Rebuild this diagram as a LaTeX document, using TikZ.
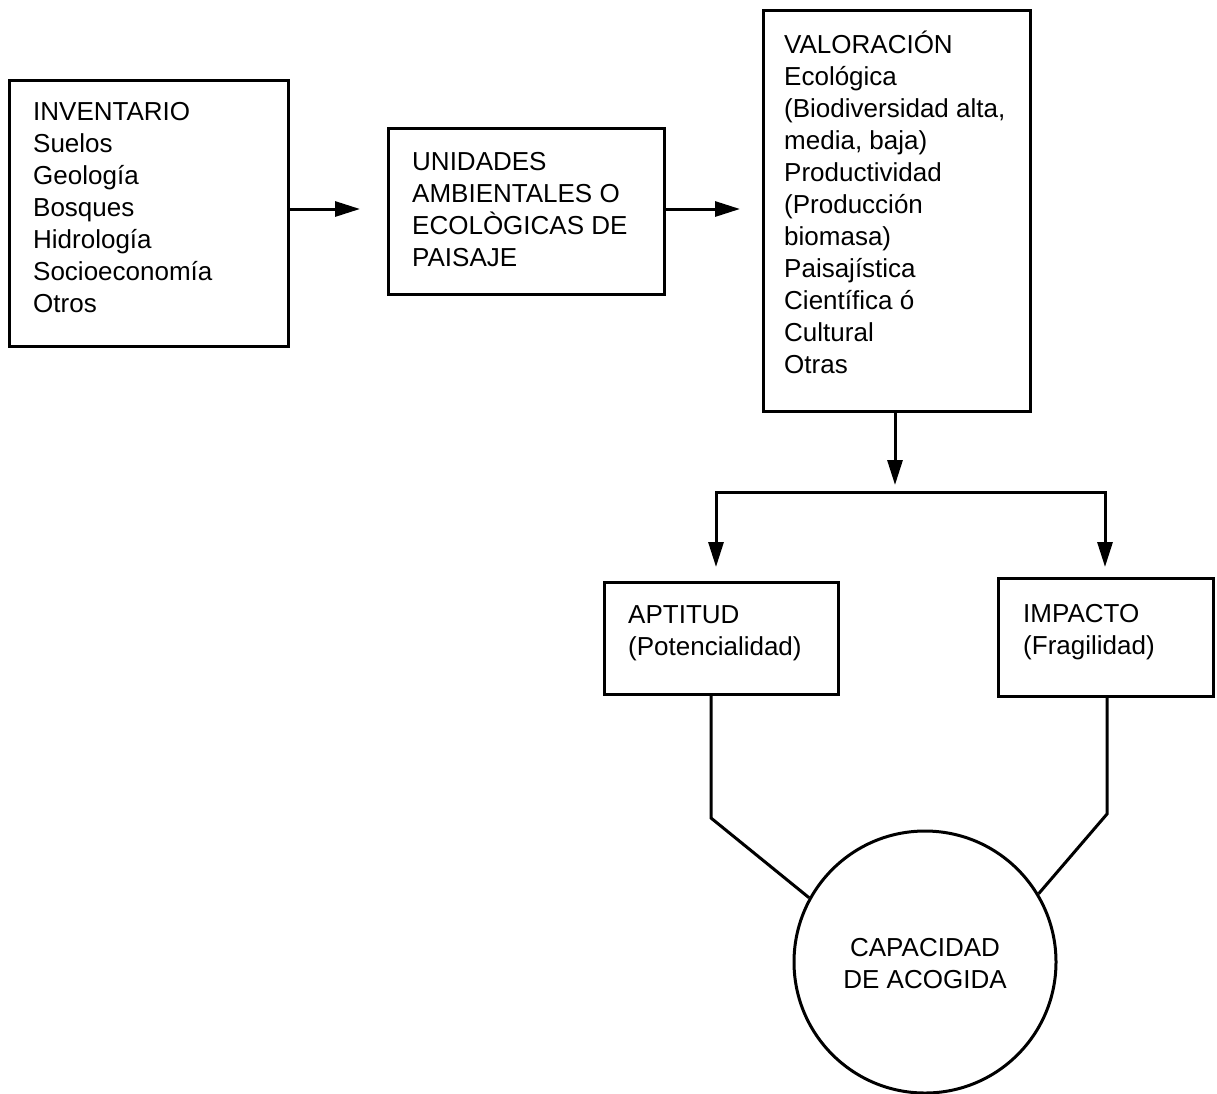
\documentclass[tikz,border=0pt]{standalone}
\usepackage{fontspec}
\setmainfont{Liberation Sans}
\usetikzlibrary{arrows.meta}
\begin{document}
\begin{tikzpicture}[x=1pt,y=-1pt,
  box/.style={draw, rectangle, line width=3pt, inner sep=0pt},
  circbox/.style={draw, circle, line width=3pt, inner sep=0pt, minimum size=262pt},
  txt/.style={inner sep=0pt, anchor=base west, font=\fontsize{26}{32}\selectfont},
  ctxt/.style={inner sep=0pt, anchor=base, font=\fontsize{26}{32}\selectfont},
  conn/.style={line width=3pt},
  arr/.style={line width=3pt, -{Triangle[length=25pt,width=15pt]}}]
\useasboundingbox (0,0) rectangle (1217,1093);

% boxes
\node[box, minimum width=279pt, minimum height=266pt] (inv) at (148.5,213) {};
\node[box, minimum width=276pt, minimum height=166pt] (uni) at (526,211) {};
\node[box, minimum width=267pt, minimum height=401pt] (val) at (896.5,210.5) {};
\node[box, minimum width=234pt, minimum height=112pt] (apt) at (721,638) {};
\node[box, minimum width=215pt, minimum height=118pt] (imp) at (1105.5,637) {};
\node[circbox] (cap) at (925,962) {};

% texts
\node[txt] (tinv) at (33,120) {\begin{tabular}[t]{@{}l@{}}INVENTARIO\\Suelos\\Geología\\Bosques\\Hidrología\\Socioeconomía\\Otros\end{tabular}};
\node[txt] (tuni) at (412,170) {\begin{tabular}[t]{@{}l@{}}UNIDADES\\AMBIENTALES O\\ECOLÒGICAS DE\\PAISAJE\end{tabular}};
\node[txt] (tval) at (784,53) {\begin{tabular}[t]{@{}l@{}}VALORACIÓN\\Ecológica\\(Biodiversidad alta,\\media, baja)\\Productividad\\(Producción\\biomasa)\\Paisajística\\Científica ó\\Cultural\\Otras\end{tabular}};
\node[txt] (tapt) at (628,623) {\begin{tabular}[t]{@{}l@{}}APTITUD\\(Potencialidad)\end{tabular}};
\node[txt] (timp) at (1023,622) {\begin{tabular}[t]{@{}l@{}}IMPACTO\\(Fragilidad)\end{tabular}};
\node[ctxt] (tcap) at (925,956) {\begin{tabular}[t]{@{}c@{}}CAPACIDAD\\DE ACOGIDA\end{tabular}};

% connector points
\coordinate (a1) at (360,209);
\coordinate (a2) at (740,209);
\coordinate (a3) at (895,485);
\coordinate (bl) at (716,492);
\coordinate (br) at (1105,492);
\coordinate (tl) at (716,567);
\coordinate (tr) at (1105,567);
\coordinate (kl) at (711,818);
\coordinate (kr) at (1107,814);

% connectors
\draw[arr] (inv.east |- a1) -- (a1);
\draw[arr] (uni.east |- a2) -- (a2);
\draw[arr] (val.south -| a3) -- (a3);
\draw[conn, line cap=rect] (bl) -- (br);
\draw[arr] (bl) -- (tl);
\draw[arr] (br) -- (tr);
\draw[conn, line join=miter] (apt.south -| kl) -- (kl) -- (cap.151);
\draw[conn, line join=miter] (imp.south -| kr) -- (kr) -- (cap.31);
\end{tikzpicture}
\end{document}
